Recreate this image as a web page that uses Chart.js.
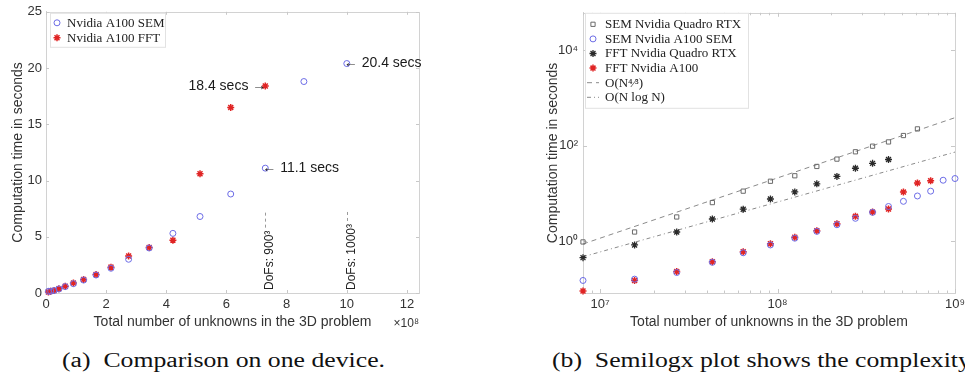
<!DOCTYPE html>
<html><head><meta charset="utf-8">
<script src="https://cdn.jsdelivr.net/npm/chart.js@4"></script>
<style>
html,body{margin:0;padding:0;background:#fff;width:965px;height:380px;overflow:hidden;position:relative;}
#wa{position:absolute;left:0;top:0;width:440px;height:335px;}
#wb{position:absolute;left:483px;top:0;width:520px;height:335px;}
.cap{position:absolute;top:349px;font-family:"Liberation Serif","Times New Roman",serif;font-size:20px;white-space:nowrap;color:#111;transform-origin:0 0;}
</style></head><body>
<div id="wa"><canvas id="ca"></canvas></div>
<div id="wb"><canvas id="cb"></canvas></div>
<div class="cap" id="capA" style="left:62px">(a)&nbsp;&nbsp;Comparison on one device.</div>
<div class="cap" id="capB" style="left:552px">(b)&nbsp;&nbsp;Semilogx plot shows the complexity</div>
<script>
// ---------------- data ----------------
// total number of unknowns (N^3 for N = 200 ... 1000)
const unknowns = [8e6, 1.5625e7, 2.7e7, 4.2875e7, 6.4e7, 9.1125e7, 1.25e8, 1.66375e8, 2.16e8,
                  2.74625e8, 3.43e8, 4.21875e8, 5.12e8, 6.14125e8, 7.29e8, 8.57375e8, 1e9];
// computation time in seconds
const semA100   = [0.15, 0.16, 0.22, 0.36, 0.57, 0.83, 1.15, 1.6, 2.2, 3.0, 4.0, 5.3, 6.8, 8.8, 11.1, 18.8, 20.4];
const fftA100   = [0.09, 0.15, 0.23, 0.37, 0.60, 0.88, 1.2, 1.65, 2.3, 3.3, 4.05, 4.7, 10.6, 16.5, 18.4];
const semQuadro = [0.96, 1.55, 3.2, 6.4, 11.1, 17.9, 23.3, 36.5, 52, 74, 97, 119, 162, 223];
const fftQuadro = [0.45, 0.83, 1.55, 2.9, 4.65, 7.6, 10.7, 15.8, 22.6, 33.5, 42.4, 51];
// reference complexity lines (end points)
const refX      = [8e6, 1e9];
const refN43    = [0.87, 383];
const refNlogN  = [0.47, 73];
// ticks
const xTicksA = [0, 2, 4, 6, 8, 10, 12];
const yTicksA = [0, 5, 10, 15, 20, 25];
const xScaleA = 1e8;
const xTicksB = [1e7, 1e8, 1e9];
const xTickLabelsB = ['10\u2077', '10\u2078', '10\u2079'];
const yTicksB = [1, 100, 10000];
const yTickLabelsB = ['10\u2070', '10\u00B2', '10\u2074'];
// annotations
const notes = [
  {x: 7.29e8, y: 18.4, text: '18.4 secs \u2192', align: 'right'},
  {x: 7.29e8, y: 11.1, text: '\u2190 11.1 secs', align: 'left'},
  {x: 1e9,    y: 20.4, text: '\u2190 20.4 secs', align: 'left'}
];
const dofLines = [{x: 7.29e8, label: 'DoFs: 900\u00B3'}, {x: 1e9, label: 'DoFs: 1000\u00B3'}];
const dofLineTop = 7.4;

// ---------------- helpers ----------------
const sans = '"Liberation Sans", Arial, Helvetica, sans-serif';
const serif = '"Liberation Serif", "Times New Roman", serif';
const txt = '#333';
const axisCol = '#d2d2d2';
const pts = (xs, ys, div) => ys.map((v, i) => ({x: xs[i] / div, y: v}));

function marker(ctx, ds, x, y) {
  ctx.save();
  ctx.setLineDash([]);
  ctx.strokeStyle = ds.borderColor;
  ctx.fillStyle = ds.backgroundColor;
  ctx.lineWidth = ds.borderWidth;
  if (Chart.helpers && Chart.helpers.drawPoint) {
    Chart.helpers.drawPoint(ctx, {pointStyle: ds.pointStyle, radius: ds.pointRadius, rotation: 0, borderWidth: ds.borderWidth}, x, y);
  } else {
    ctx.beginPath(); ctx.arc(x, y, ds.pointRadius, 0, 2 * Math.PI); ctx.stroke();
  }
  ctx.restore();
}

function drawLegend(ctx, chart, box, rows) {
  ctx.save();
  ctx.fillStyle = '#fff';
  ctx.fillRect(box.x, box.y, box.w, box.h);
  ctx.strokeStyle = '#e2e2e2';
  ctx.lineWidth = 1;
  ctx.strokeRect(box.x + 0.5, box.y + 0.5, box.w, box.h);
  ctx.font = '13px ' + serif;
  ctx.fillStyle = '#222';
  ctx.textBaseline = 'middle';
  ctx.textAlign = 'left';
  chart.data.datasets.forEach((ds, i) => {
    const yy = rows.y0 + i * rows.dy;
    if (ds.showLine) {
      ctx.save();
      ctx.strokeStyle = ds.borderColor; ctx.lineWidth = ds.borderWidth;
      ctx.setLineDash(ds.borderDash || []);
      ctx.beginPath(); ctx.moveTo(rows.mx - 6, yy); ctx.lineTo(rows.mx + 6, yy); ctx.stroke();
      ctx.restore();
    } else {
      marker(ctx, ds, rows.mx, yy);
    }
    ctx.fillStyle = '#222';
    ctx.fillText(ds.label, rows.tx, yy + 0.5);
  });
  ctx.restore();
}

function frame(ctx, a) {
  ctx.save();
  ctx.strokeStyle = axisCol; ctx.lineWidth = 1; ctx.setLineDash([]);
  ctx.strokeRect(Math.round(a.left) + 0.5, Math.round(a.top) + 0.5, Math.round(a.right - a.left), Math.round(a.bottom - a.top));
  ctx.restore();
}

// ---------------- chart (a) ----------------
const decorA = {
  id: 'decorA',
  beforeDatasetsDraw(chart) {
    const {ctx, chartArea: a, scales: {x, y}} = chart;
    frame(ctx, a);
    ctx.save();
    ctx.strokeStyle = '#c8c8c8'; ctx.lineWidth = 1;
    xTicksA.forEach(v => { const px = Math.round(x.getPixelForValue(v)) + 0.5;
      ctx.beginPath(); ctx.moveTo(px, a.bottom); ctx.lineTo(px, a.bottom - 3); ctx.moveTo(px, a.top); ctx.lineTo(px, a.top + 3); ctx.stroke(); });
    yTicksA.forEach(v => { const py = Math.round(y.getPixelForValue(v)) + 0.5;
      ctx.beginPath(); ctx.moveTo(a.left, py); ctx.lineTo(a.left + 3, py); ctx.moveTo(a.right, py); ctx.lineTo(a.right - 3, py); ctx.stroke(); });
    ctx.restore();
    // DoFs lines
    ctx.save();
    ctx.font = '12px ' + sans;
    dofLines.forEach(d => {
      const px = Math.round(x.getPixelForValue(d.x / xScaleA)) + 0.5;
      const w = ctx.measureText(d.label).width;
      const yb = a.bottom - 3;
      ctx.strokeStyle = '#9a9a9a'; ctx.setLineDash([3, 3]); ctx.lineWidth = 1;
      ctx.beginPath(); ctx.moveTo(px, yb - w - 3); ctx.lineTo(px, y.getPixelForValue(dofLineTop)); ctx.stroke();
      ctx.save();
      ctx.translate(px + 4, yb);
      ctx.rotate(-Math.PI / 2);
      ctx.fillStyle = '#222'; ctx.textAlign = 'left'; ctx.textBaseline = 'middle';
      ctx.fillText(d.label, 0, 0);
      ctx.restore();
    });
    ctx.restore();
  },
  afterDatasetsDraw(chart) {
    const {ctx, chartArea: a, scales: {x, y}} = chart;
    ctx.save();
    ctx.font = '14px ' + sans;
    ctx.fillStyle = '#1a1a1a';
    ctx.textBaseline = 'middle';
    notes.forEach(n => {
      const px = x.getPixelForValue(n.x / xScaleA), py = y.getPixelForValue(n.y);
      ctx.textAlign = n.align;
      ctx.fillText(n.text, n.align === 'left' ? px - 3 : px + 1, py);
    });
    ctx.font = '12px ' + sans;
    ctx.fillStyle = txt;
    ctx.textAlign = 'right';
    ctx.fillText('\u00D710\u2078', a.right, 324);
    ctx.restore();
    drawLegend(ctx, chart, {x: a.left + 4, y: a.top + 1, w: 115, h: 34}, {y0: a.top + 11, dy: 15, mx: a.left + 11, tx: a.left + 21});
  }
};

new Chart(document.getElementById('ca'), {
  type: 'scatter',
  data: {datasets: [
    {label: 'Nvidia A100 SEM', data: pts(unknowns, semA100, xScaleA), pointStyle: 'circle', pointRadius: 3,
     borderColor: '#6c6ce6', backgroundColor: 'rgba(0,0,0,0)', borderWidth: 1, clip: false},
    {label: 'Nvidia A100 FFT', data: pts(unknowns, fftA100, xScaleA), pointStyle: 'star', pointRadius: 3.5,
     borderColor: '#e02424', backgroundColor: '#e02424', borderWidth: 1.5, clip: false}
  ]},
  options: {
    responsive: true, maintainAspectRatio: false, animation: false, devicePixelRatio: 1,
    layout: {padding: {top: 7, right: 21, left: 0, bottom: 0}},
    plugins: {legend: {display: false}, tooltip: {enabled: false}},
    scales: {
      x: {type: 'linear', min: 0, max: 12.4, bounds: 'data',
          afterBuildTicks: s => { s.ticks = xTicksA.map(v => ({value: v})); },
          afterFit: s => { s.height = 42; },
          grid: {display: false, drawTicks: false}, border: {display: true, color: axisCol},
          ticks: {color: txt, font: {family: sans, size: 13}, padding: 4, autoSkip: false, maxRotation: 0},
          title: {display: true, text: 'Total number of unknowns in the 3D problem', color: txt,
                  font: {family: sans, size: 14}, padding: {top: 0, bottom: 4}}},
      y: {type: 'linear', min: 0, max: 25, bounds: 'data',
          afterBuildTicks: s => { s.ticks = yTicksA.map(v => ({value: v})); },
          afterFit: s => { s.width = 46; },
          grid: {display: false, drawTicks: false}, border: {display: true, color: axisCol},
          ticks: {color: txt, font: {family: sans, size: 13}, padding: 4, autoSkip: false},
          title: {display: true, text: 'Computation time in seconds', color: txt,
                  font: {family: sans, size: 14}, padding: {top: 10, bottom: 0}}}
    }
  },
  plugins: [decorA]
});

// ---------------- chart (b) ----------------
const decorB = {
  id: 'decorB',
  beforeDatasetsDraw(chart) {
    const {ctx, chartArea: a, scales: {x, y}} = chart;
    frame(ctx, a);
    ctx.save();
    ctx.strokeStyle = '#c8c8c8'; ctx.lineWidth = 1;
    for (let e = 6; e <= 9; e++) for (let m = 1; m <= 9; m++) {
      const v = m * Math.pow(10, e);
      if (v < x.min || v > x.max) continue;
      const len = m === 1 ? 4 : 2.5;
      const px = Math.round(x.getPixelForValue(v)) + 0.5;
      ctx.beginPath(); ctx.moveTo(px, a.bottom); ctx.lineTo(px, a.bottom - len);
      ctx.moveTo(px, a.top); ctx.lineTo(px, a.top + len); ctx.stroke();
    }
    yTicksB.forEach(v => { const py = Math.round(y.getPixelForValue(v)) + 0.5;
      ctx.beginPath(); ctx.moveTo(a.left, py); ctx.lineTo(a.left + 4, py); ctx.moveTo(a.right, py); ctx.lineTo(a.right - 4, py); ctx.stroke(); });
    ctx.restore();
  },
  afterDatasetsDraw(chart) {
    const {ctx, chartArea: a} = chart;
    drawLegend(ctx, chart, {x: a.left + 2, y: a.top, w: 163, h: 95}, {y0: a.top + 11.5, dy: 14.6, mx: a.left + 10, tx: a.left + 22});
  }
};

new Chart(document.getElementById('cb'), {
  type: 'scatter',
  data: {datasets: [
    {label: 'SEM Nvidia Quadro RTX', data: pts(unknowns, semQuadro, 1), pointStyle: 'rect', pointRadius: 3,
     borderColor: '#6a6a6a', backgroundColor: 'rgba(0,0,0,0)', borderWidth: 1, clip: false},
    {label: 'SEM Nvidia A100 SEM', data: pts(unknowns, semA100, 1), pointStyle: 'circle', pointRadius: 3,
     borderColor: '#6c6ce6', backgroundColor: 'rgba(0,0,0,0)', borderWidth: 1, clip: false},
    {label: 'FFT Nvidia Quadro RTX', data: pts(unknowns, fftQuadro, 1), pointStyle: 'star', pointRadius: 3.5,
     borderColor: '#2a2a2a', backgroundColor: '#2a2a2a', borderWidth: 1.3, clip: false},
    {label: 'FFT Nvidia A100', data: pts(unknowns, fftA100, 1), pointStyle: 'star', pointRadius: 3.5,
     borderColor: '#e02424', backgroundColor: '#e02424', borderWidth: 1.5, clip: false},
    {label: 'O(N\u2074\u2044\u00B3)', data: pts(refX, refN43, 1), showLine: true, borderDash: [5, 4],
     borderColor: '#8a8a8a', backgroundColor: '#8a8a8a', borderWidth: 1, pointRadius: 0, clip: false},
    {label: 'O(N log N)', data: pts(refX, refNlogN, 1), showLine: true, borderDash: [4, 3, 1, 3],
     borderColor: '#8a8a8a', backgroundColor: '#8a8a8a', borderWidth: 1, pointRadius: 0, clip: false}
  ]},
  options: {
    responsive: true, maintainAspectRatio: false, animation: false, devicePixelRatio: 1,
    layout: {padding: {top: 7, right: 48, left: 0, bottom: 0}},
    plugins: {legend: {display: false}, tooltip: {enabled: false}},
    scales: {
      x: {type: 'logarithmic', min: 8e6, max: 1e9, bounds: 'data',
          afterBuildTicks: s => { s.ticks = xTicksB.map(v => ({value: v})); },
          afterFit: s => { s.height = 42; },
          grid: {display: false, drawTicks: false}, border: {display: true, color: axisCol},
          ticks: {color: txt, font: {family: sans, size: 13}, padding: 4, autoSkip: false, maxRotation: 0,
                  callback: (v, i) => xTickLabelsB[i]},
          title: {display: true, text: 'Total number of unknowns in the 3D problem', color: txt,
                  font: {family: sans, size: 14}, padding: {top: 0, bottom: 4}}},
      y: {type: 'logarithmic', min: 0.082, max: 60000, bounds: 'data',
          afterBuildTicks: s => { s.ticks = yTicksB.map(v => ({value: v})); },
          afterFit: s => { s.width = 100; },
          grid: {display: false, drawTicks: false}, border: {display: true, color: axisCol},
          ticks: {color: txt, font: {family: sans, size: 13}, padding: 5, autoSkip: false,
                  callback: (v, i) => yTickLabelsB[i]},
          title: {display: true, text: 'Computation time in seconds', color: txt,
                  font: {family: sans, size: 14}, padding: {top: 62, bottom: 0}}}
    }
  },
  plugins: [decorB]
});

// caption width fit (reference caption (a) is ~323px wide)
(function () {
  const a = document.getElementById('capA'), b = document.getElementById('capB');
  const k = 323 / a.getBoundingClientRect().width;
  a.style.transform = 'scaleX(' + k + ')';
  b.style.transform = 'scaleX(' + k + ')';
})();
</script>
</body></html>
